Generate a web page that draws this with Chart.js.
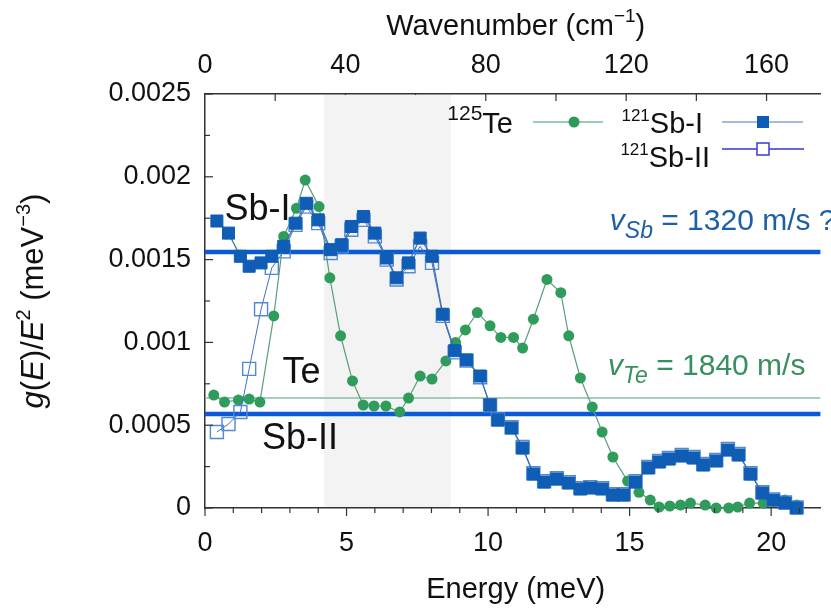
<!DOCTYPE html>
<html>
<head>
<meta charset="utf-8">
<script src="https://cdn.jsdelivr.net/npm/chart.js@4.4.1/dist/chart.umd.min.js"></script>
<style>
html, body { margin: 0; padding: 0; background: #fff; }
#wrap { width: 831px; height: 610px; position: relative; }
</style>
</head>
<body>
<div id="wrap"><canvas id="lienzo"></canvas></div>
<script>
// valores: energia (meV) y g(E)/E^2 (meV^-3)
const teE = [0.31, 0.69, 1.18, 1.56, 1.94, 2.43, 2.78, 3.23, 3.54, 4.03, 4.41, 4.79, 5.21, 5.59, 5.97, 6.39, 6.88, 7.19, 7.6, 8.02, 8.51, 8.85, 9.2, 9.62, 10.07, 10.45, 10.9, 11.22, 11.6, 12.08, 12.57, 12.85, 13.26, 13.68, 14.03, 14.41, 14.93, 15.33, 15.73, 16.04, 16.42, 16.8, 17.15, 17.67, 18.06, 18.5, 18.82, 19.24, 19.72, 20.1, 20.49, 20.9]
const teG = [0.000682, 0.00064, 0.000652, 0.000658, 0.00064, 0.00116, 0.00164, 0.00181, 0.00198, 0.00182, 0.00139, 0.00104, 0.000767, 0.000622, 0.000616, 0.000616, 0.00058, 0.000664, 0.000797, 0.000779, 0.000888, 0.001, 0.001075, 0.00118, 0.0011, 0.00103, 0.00103, 0.000966, 0.00114, 0.00138, 0.0013, 0.00104, 0.000785, 0.00061, 0.000459, 0.000308, 0.000163, 0.000095, 0.000048, 0.000006, 0.000012, 0.000018, 0.00003, 0.000018, 0, 0, 0.000006, 0.00003, 0.00003, 0.000042, 0.000048, 0.000018]

const sbE = [0.42, 0.83, 1.25, 1.56, 1.98, 2.36, 2.78, 3.2, 3.58, 4.0, 4.44, 4.83, 5.17, 5.6, 6.0, 6.42, 6.77, 7.19, 7.6, 8.02, 8.4, 8.82, 9.24, 9.72, 10.07, 10.35, 10.83, 11.22, 11.6, 11.98, 12.43, 12.85, 13.26, 13.61, 14.03, 14.41, 14.79, 15.21, 15.66, 16.04, 16.39, 16.84, 17.26, 17.6, 18.06, 18.47, 18.85, 19.27, 19.69, 20.07, 20.49, 20.9]
const sbIG = [0.001733, 0.00166, 0.00152, 0.00146, 0.00148, 0.00152, 0.00158, 0.00172, 0.00184, 0.00174, 0.00156, 0.00159, 0.0017, 0.00176, 0.00166, 0.00151, 0.00139, 0.00148, 0.00163, 0.00152, 0.00117, 0.00095, 0.000894, 0.000797, 0.000622, 0.000531, 0.000483, 0.000362, 0.000205, 0.000157, 0.000175, 0.000151, 0.000115, 0.000121, 0.000115, 0.0000785, 0.0000785, 0.000157, 0.000242, 0.000278, 0.000296, 0.000314, 0.000302, 0.00026, 0.000284, 0.00035, 0.00032, 0.000205, 0.0000906, 0.000048, 0.00003, 0]
const sbIIG = [0.000459, 0.000507, 0.00058, 0.00084, 0.0012, 0.00145, 0.00155, 0.00171, 0.00182, 0.00172, 0.00154, 0.00158, 0.00168, 0.00174, 0.00164, 0.0015, 0.00138, 0.00146, 0.00158, 0.00148, 0.00116, 0.00094, 0.00089, 0.00079, 0.00062, 0.000535, 0.000488, 0.000368, 0.00021, 0.000162, 0.00018, 0.000156, 0.00012, 0.000126, 0.00012, 0.000083, 0.000083, 0.000162, 0.000248, 0.000284, 0.000302, 0.00032, 0.000308, 0.000266, 0.00029, 0.000356, 0.000326, 0.00021, 0.000095, 0.000052, 0.000034, 0.000004]

// rectas de Debye
const vSbI = 0.001546
const vSbII = 0.000568
const vTe = 0.000664

// zona sombreada (meV)
const banda = [4.2, 8.68]

const xMax = 21.74
const cmPorMeV = 8.0655
const xTicks = [0, 5, 10, 15, 20]
const xTickLabels = ['0', '5', '10', '15', '20']
const topTicks = [0, 40, 80, 120, 160]
const topTickLabels = ['0', '40', '80', '120', '160']
const yTicks = [0, 0.0005, 0.001, 0.0015, 0.002, 0.0025]
const yTickLabels = ['0', '0.0005', '0.001', '0.0015', '0.002', '0.0025']

const FAM = '"Liberation Sans", Arial, sans-serif'
const f = (s, it) => (it ? 'italic ' : '') + s + 'px ' + FAM

const puntos = (xs, ys) => xs.map((x, i) => ({ x: x, y: ys[i] }))
const recta = v => [{ x: 0, y: v }, { x: xMax, y: v }]

// texto con partes (superindices, cursiva)
function rich(ctx, x, y, parts, align) {
    let w = 0
    parts.forEach(p => { ctx.font = p.font; w += ctx.measureText(p.t).width })
    let cx = align === 'center' ? x - w / 2 : align === 'right' ? x - w : x
    ctx.textAlign = 'left'
    ctx.textBaseline = 'alphabetic'
    parts.forEach(p => {
        ctx.font = p.font
        ctx.fillStyle = p.color || '#111'
        ctx.fillText(p.t, cx, y + (p.dy || 0))
        cx += ctx.measureText(p.t).width
    })
}

const decorado = {
    id: 'decorado',
    beforeDatasetsDraw(chart) {
        const { ctx, chartArea: a, scales } = chart
        const sx = scales.x, s2 = scales.x2
        ctx.save()
        // ticks superiores (hacia dentro), quedan bajo la banda
        ctx.strokeStyle = '#333'
        ctx.lineWidth = 1.2
        for (let w = 20; w <= s2.max; w += 20) {
            const px = s2.getPixelForValue(w)
            ctx.beginPath(); ctx.moveTo(px, a.top); ctx.lineTo(px, a.top + 7); ctx.stroke()
        }
        const x0 = sx.getPixelForValue(banda[0]), x1 = sx.getPixelForValue(banda[1])
        ctx.fillStyle = '#f3f3f3'
        ctx.fillRect(x0, a.top + 1, x1 - x0, a.bottom - a.top - 2)
        ctx.restore()
    },
    afterDatasetsDraw(chart) {
        const { ctx, chartArea: a, scales } = chart
        const sx = scales.x, sy = scales.y
        ctx.save()
        ctx.strokeStyle = '#333'
        ctx.lineWidth = 1.2
        // ticks inferiores (hacia fuera)
        for (let e = 0; e <= 21; e++) {
            const px = sx.getPixelForValue(e)
            const l = e % 5 === 0 ? 8 : 5
            ctx.beginPath(); ctx.moveTo(px, a.bottom); ctx.lineTo(px, a.bottom + l); ctx.stroke()
        }
        // ticks izquierdos (hacia dentro)
        for (let k = 0; k <= 10; k++) {
            const py = sy.getPixelForValue(k * 0.00025)
            const l = k % 2 === 0 ? 8 : 5
            ctx.beginPath(); ctx.moveTo(a.left, py); ctx.lineTo(a.left + l, py); ctx.stroke()
        }

        // etiquetas
        const X = v => sx.getPixelForValue(v), Y = v => sy.getPixelForValue(v)
        rich(ctx, X(0.69), Y(0.00174), [{ t: 'Sb-I', font: f(36) }])
        rich(ctx, X(2.74), Y(0.000755), [{ t: 'Te', font: f(36) }])
        rich(ctx, X(2.01), Y(0.000356), [{ t: 'Sb-II', font: f(36) }])
        const azul = '#1f5fa5', verde = '#3a8f5e'
        rich(ctx, X(14.3), Y(0.00168), [
            { t: 'v', font: f(30, true), color: azul },
            { t: 'Sb', font: f(23, true), color: azul, dy: 8 },
            { t: ' = 1320 m/s ?', font: f(30), color: azul }
        ])
        rich(ctx, X(14.24), Y(0.000803), [
            { t: 'v', font: f(30, true), color: verde },
            { t: 'Te', font: f(23, true), color: verde, dy: 8 },
            { t: ' = 1840 m/s', font: f(30), color: verde }
        ])

        // leyenda
        rich(ctx, 513, 133, [{ t: '125', font: f(21), dy: -13 }, { t: 'Te', font: f(29) }], 'right')
        rich(ctx, 703, 133, [{ t: '121', font: f(17), dy: -12 }, { t: 'Sb-I', font: f(29) }], 'right')
        rich(ctx, 710, 167, [{ t: '121', font: f(17), dy: -12 }, { t: 'Sb-II', font: f(29) }], 'right')
        ctx.lineWidth = 1.2
        ctx.strokeStyle = '#3a9a64'
        ctx.beginPath(); ctx.moveTo(533, 122); ctx.lineTo(603, 122); ctx.stroke()
        ctx.fillStyle = '#2e9a5a'
        ctx.beginPath(); ctx.arc(574, 122, 5.5, 0, Math.PI * 2); ctx.fill()
        ctx.strokeStyle = '#4a7bb0'
        ctx.beginPath(); ctx.moveTo(722, 122); ctx.lineTo(803, 122); ctx.stroke()
        ctx.fillStyle = '#0d5cb5'
        ctx.fillRect(757, 116, 12, 12)
        ctx.strokeStyle = '#3737c8'
        ctx.lineWidth = 1.6
        ctx.beginPath(); ctx.moveTo(722, 149); ctx.lineTo(804, 149); ctx.stroke()
        ctx.fillStyle = '#fff'
        ctx.fillRect(757, 143, 12, 12)
        ctx.strokeStyle = '#4545d5'
        ctx.strokeRect(757, 143, 12, 12)

        // titulos de ejes
        const cx = (a.left + a.right) / 2
        rich(ctx, cx + 3, 598, [{ t: 'Energy (meV)', font: f(29) }], 'center')
        rich(ctx, cx + 3, 35, [
            { t: 'Wavenumber (cm', font: f(29) },
            { t: '\u22121', font: f(19), dy: -13 },
            { t: ')', font: f(29) }
        ], 'center')
        ctx.translate(43, (a.top + a.bottom) / 2)
        ctx.rotate(-Math.PI / 2)
        rich(ctx, 0, 0, [
            { t: 'g', font: f(31, true) },
            { t: '(', font: f(31) },
            { t: 'E', font: f(31, true) },
            { t: ')/', font: f(31) },
            { t: 'E', font: f(31, true) },
            { t: '2', font: f(20), dy: -13 },
            { t: ' (meV', font: f(31) },
            { t: '\u22123', font: f(20), dy: -13 },
            { t: ')', font: f(31) }
        ], 'center')
        ctx.restore()
    }
}

const tickFont = { family: FAM, size: 27 }

new Chart(document.getElementById('lienzo'), {
    type: 'line',
    data: {
        datasets: [
            {
                label: '121Sb-I', order: 0, data: puntos(sbE, sbIG),
                borderColor: '#3f6fa8', borderWidth: 1.2,
                pointStyle: 'rect', pointRadius: 8.5, pointBackgroundColor: '#0f5db4', pointBorderColor: '#0f5db4', pointBorderWidth: 1
            },
            {
                label: '121Sb-II', order: 1, data: puntos(sbE, sbIIG),
                borderColor: '#3d6fd0', borderWidth: 1,
                pointStyle: 'rect', pointRadius: 9.2, pointBackgroundColor: 'rgba(255,255,255,0)', pointBorderColor: '#5289d4', pointBorderWidth: 1.4
            },
            {
                label: '125Te', order: 2, data: puntos(teE, teG),
                borderColor: '#5b9e7a', borderWidth: 1.2,
                pointStyle: 'circle', pointRadius: 5.5, pointBackgroundColor: '#2f9c5c', pointBorderColor: '#2f9c5c', pointBorderWidth: 0
            },
            { label: 'vSbI', order: 3, data: recta(vSbI), borderColor: '#0a5ad8', borderWidth: 4.5, pointRadius: 0 },
            { label: 'vSbII', order: 3, data: recta(vSbII), borderColor: '#0a5ad8', borderWidth: 4.5, pointRadius: 0 },
            { label: 'vTe', order: 4, data: recta(vTe), borderColor: '#8dbda6', borderWidth: 1.6, pointRadius: 0 }
        ]
    },
    options: {
        responsive: true,
        maintainAspectRatio: false,
        animation: false,
        layout: { padding: 0 },
        elements: { line: { tension: 0 } },
        datasets: { line: { clip: false } },
        plugins: { legend: { display: false }, tooltip: { enabled: false } },
        scales: {
            x: {
                type: 'linear', position: 'bottom', min: 0, max: xMax,
                afterFit: s => { s.height = 102 },
                afterBuildTicks: s => { s.ticks = xTicks.map(v => ({ value: v })) },
                grid: { display: false, drawTicks: false },
                border: { display: true, color: '#333', width: 1.5 },
                ticks: { font: tickFont, color: '#111', padding: 19, maxRotation: 0, callback: (v, i) => xTickLabels[i] }
            },
            x2: {
                type: 'linear', position: 'top', min: 0, max: xMax * cmPorMeV,
                afterFit: s => { s.height = 94 },
                afterBuildTicks: s => { s.ticks = topTicks.map(v => ({ value: v })) },
                grid: { display: false, drawTicks: false },
                border: { display: true, color: '#333', width: 1.5 },
                ticks: { font: tickFont, color: '#111', padding: 12, maxRotation: 0, callback: (v, i) => topTickLabels[i] }
            },
            y: {
                type: 'linear', position: 'left', min: 0, max: 0.0025,
                afterFit: s => { s.width = 205 },
                afterBuildTicks: s => { s.ticks = yTicks.map(v => ({ value: v })) },
                grid: { display: false, drawTicks: false },
                border: { display: true, color: '#333', width: 1.5 },
                ticks: { font: tickFont, color: '#111', padding: 14, callback: (v, i) => yTickLabels[i] }
            }
        }
    },
    plugins: [decorado]
})
</script>
</body>
</html>
